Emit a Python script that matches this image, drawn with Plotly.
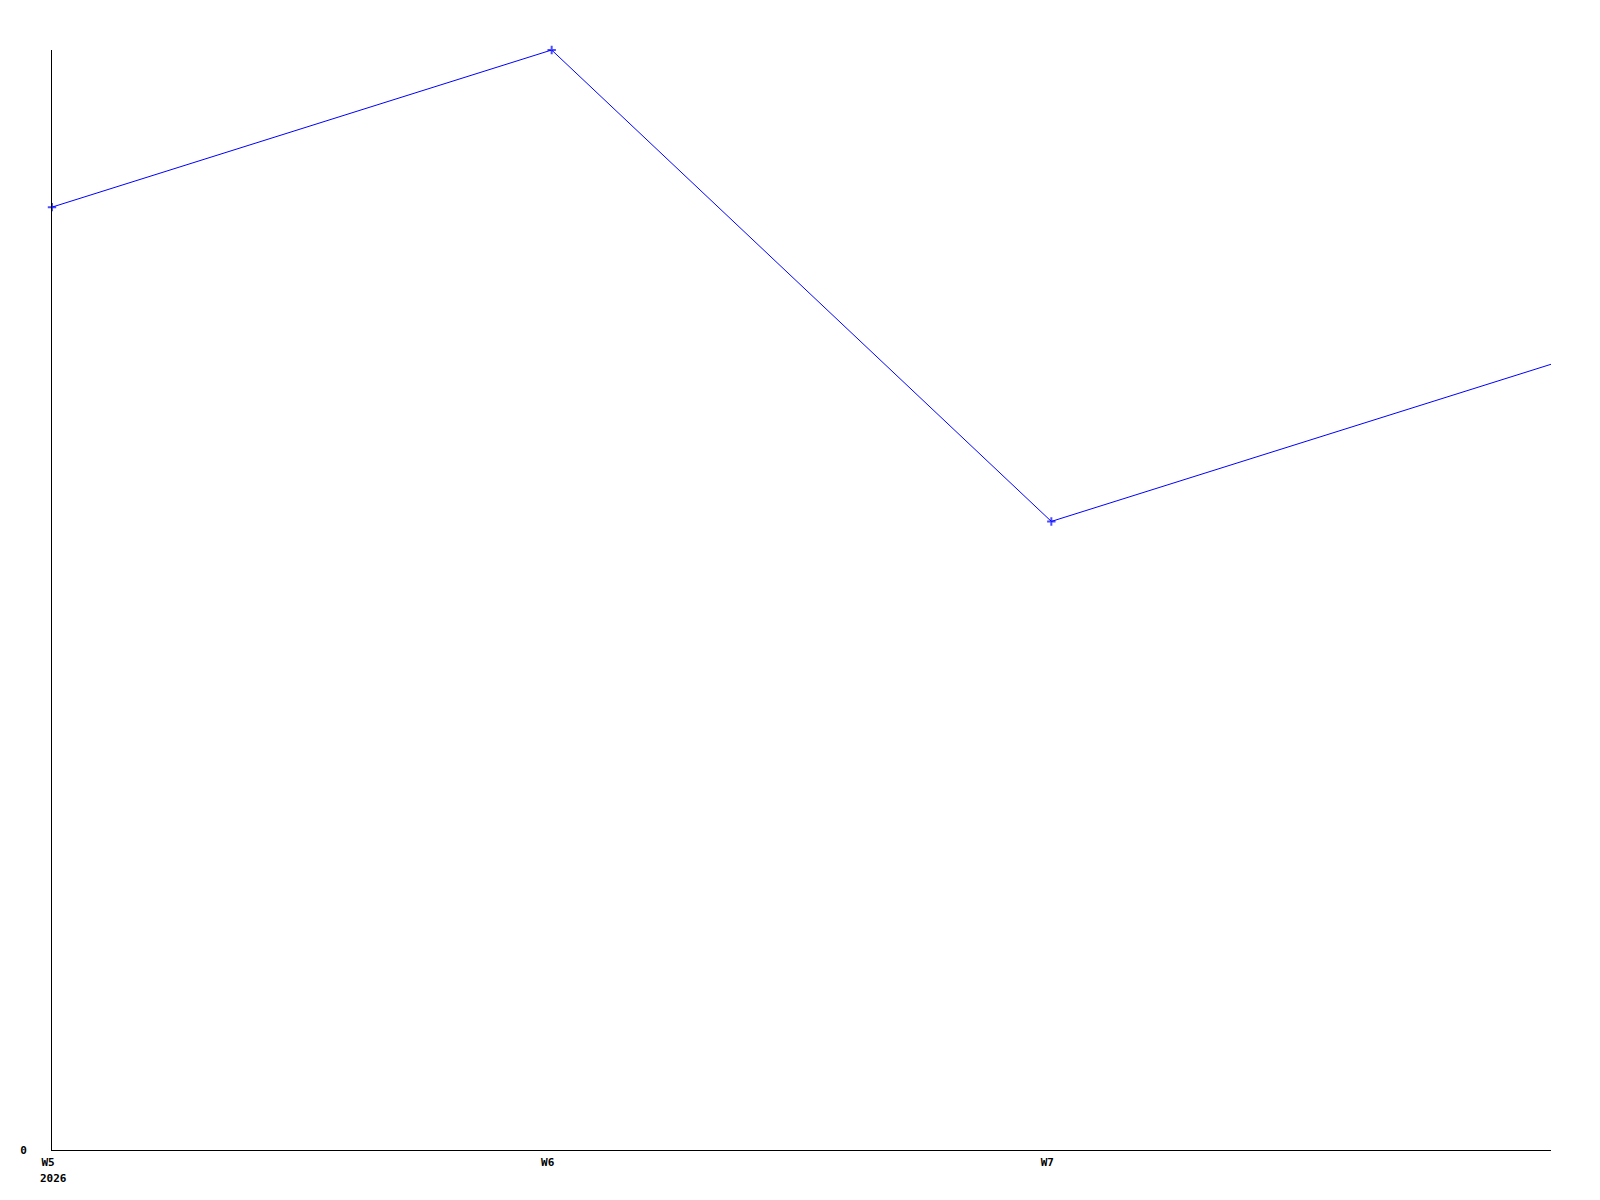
import plotly.graph_objects as go

WEEKS = [5, 6, 7, 8]
VALUES = [6, 7, 4, 5]
TICK_WEEKS = [5, 6, 7]
TICK_LABELS = ["W5", "W6", "W7"]
YEAR = "2026"

FONT = dict(family="DejaVu Sans Mono, monospace", size=11, color="#000000")

fig = go.Figure()
fig.add_trace(go.Scatter(
    x=WEEKS,
    y=VALUES,
    mode="lines+markers",
    line=dict(color="#0000ff", width=1),
    marker=dict(color="#0000ff", size=[6, 6, 6, 0], symbol="cross-thin",
                line=dict(color="#0000ff", width=2)),
    cliponaxis=False,
    showlegend=False,
))

fig.add_annotation(
    text="<b>" + YEAR + "</b>", x=WEEKS[0], y=0, xref="x", yref="y",
    xanchor="left", yanchor="top", xshift=-14, yshift=-20, showarrow=False, font=FONT,
)

# page body adds an 8px offset, so margins are shifted to keep the plot area in place
fig.update_layout(
    width=1600,
    height=1200,
    paper_bgcolor="#ffffff",
    plot_bgcolor="#ffffff",
    font=FONT,
    margin=dict(l=42, r=57, t=42, b=58),
)
fig.update_xaxes(
    range=[WEEKS[0], WEEKS[-1]],
    tickvals=TICK_WEEKS,
    ticktext=["<b>" + t + "</b>" for t in TICK_LABELS],
    showgrid=False, zeroline=False,
    showline=True, linecolor="#000000", linewidth=1,
    ticks="", ticklabelstandoff=2, ticklabelshift=-4,
)
fig.update_yaxes(
    range=[0, max(VALUES)],
    tickvals=[0],
    ticktext=["<b>0</b>"],
    showgrid=False, zeroline=False,
    showline=True, linecolor="#000000", linewidth=1,
    ticks="", ticklabelstandoff=22,
)

fig.write_html("out.html")
